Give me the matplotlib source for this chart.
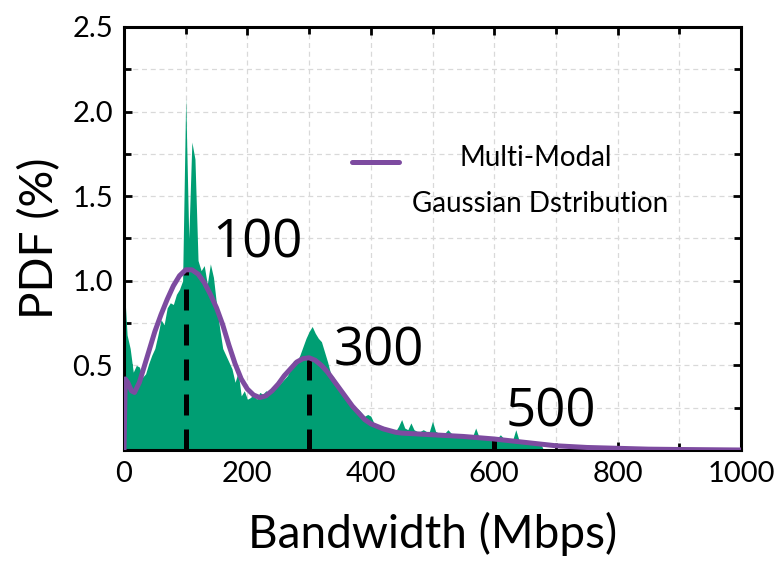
import matplotlib
matplotlib.use("Agg")
import matplotlib.pyplot as plt
from matplotlib.ticker import MultipleLocator
import numpy as np

plt.rcParams['font.family'] = ['Lato', 'DejaVu Sans']

# measured bandwidth histogram (PDF %), 5 Mbps bins
bw_x = list(range(0, 705, 5))
bw_pdf = [
    1.00, 0.68, 0.60, 0.46, 0.50, 0.49, 0.43, 0.45, 0.51, 0.56,   # 0-45
    0.60, 0.68, 0.77, 0.74, 0.84, 0.87, 0.86, 0.92, 0.95, 1.00,   # 50-95
    2.08, 1.25, 1.82, 1.72, 1.12, 1.06, 1.09, 0.98, 1.10, 1.02,   # 100-145
    0.86, 0.72, 0.60, 0.56, 0.52, 0.48, 0.40, 0.46, 0.32, 0.35,   # 150-195
    0.30, 0.31, 0.33, 0.30, 0.34, 0.33, 0.35, 0.34, 0.37, 0.36,   # 200-245
    0.38, 0.40, 0.42, 0.44, 0.48, 0.53, 0.52, 0.56, 0.61, 0.66,   # 250-295
    0.70, 0.73, 0.69, 0.66, 0.64, 0.58, 0.52, 0.45, 0.43, 0.40,   # 300-345
    0.37, 0.34, 0.31, 0.30, 0.27, 0.25, 0.24, 0.22, 0.20, 0.21,   # 350-395
    0.20, 0.16, 0.15, 0.14, 0.14, 0.13, 0.12, 0.12, 0.11, 0.14,   # 400-445
    0.18, 0.13, 0.12, 0.16, 0.12, 0.11, 0.11, 0.12, 0.11, 0.11,   # 450-495
    0.17, 0.11, 0.10, 0.10, 0.10, 0.12, 0.10, 0.09, 0.09, 0.09,   # 500-545
    0.09, 0.09, 0.08, 0.08, 0.13, 0.08, 0.08, 0.07, 0.07, 0.07,   # 550-595
    0.07, 0.07, 0.09, 0.07, 0.06, 0.06, 0.06, 0.12, 0.06, 0.05,   # 600-645
    0.05, 0.05, 0.05, 0.05, 0.05, 0.04, 0.00, 0.00, 0.00, 0.00,   # 650-695
    0.00,                                                         # 700
]

# fitted multi-modal gaussian curve
fit_x = [0, 2, 6, 12, 17, 25, 30, 40, 50, 60, 70, 80, 90, 100, 110, 120, 130,
         140, 150, 160, 170, 180, 190, 200, 210, 220, 230, 240, 250, 260, 270,
         280, 290, 300, 310, 320, 330, 340, 350, 360, 370, 380, 390, 400, 410,
         420, 430, 440, 450, 475, 500, 550, 600, 650, 700, 750, 800, 850, 900,
         1000]
fit_y = [0.00, 0.42, 0.40, 0.35, 0.34, 0.40, 0.46, 0.58, 0.70, 0.80, 0.89,
         0.97, 1.03, 1.065, 1.065, 1.04, 0.99, 0.92, 0.84, 0.74, 0.62, 0.51,
         0.42, 0.36, 0.325, 0.31, 0.32, 0.35, 0.39, 0.44, 0.48, 0.52, 0.54,
         0.545, 0.53, 0.50, 0.46, 0.41, 0.36, 0.31, 0.26, 0.22, 0.18, 0.155,
         0.14, 0.125, 0.115, 0.105, 0.10, 0.095, 0.09, 0.08, 0.065, 0.045,
         0.025, 0.015, 0.01, 0.005, 0.003, 0.0]

# modes marked with dashed lines
modes = [100, 300, 600]
mode_labels = ["100", "300", "500"]
label_pos = [(143, 1.14), (339, 0.50), (619, 0.136)]

green = "#009E73"
purple = "#7D4BA0"

fig = plt.figure(figsize=(7.79, 5.63), dpi=100)
ax = fig.add_axes([124 / 779, 113 / 563, 617 / 779, 423 / 563])

ax.fill_between(bw_x, bw_pdf, 0, color=green, linewidth=0, zorder=2)
ax.plot(fit_x, fit_y, color=purple, linewidth=3.6, zorder=4,
        solid_capstyle="round")

for m in modes:
    top = np.interp(m, fit_x, fit_y)
    ax.plot([m, m], [0, top], color="black", linewidth=3.6,
            dashes=(4.2, 2.8), zorder=3)

for txt, (tx, ty) in zip(mode_labels, label_pos):
    ax.text(tx, ty, txt, fontsize=38, family=['Open Sans', 'DejaVu Sans'],
            ha="left", va="baseline", zorder=5)

# legend drawn by hand (two lines, handle beside the first)
ax.plot([0.37, 0.445], [0.681, 0.681], transform=ax.transAxes, color=purple,
        linewidth=3.6, solid_capstyle="round", clip_on=False)
ax.text(0.667, 0.690, "Multi-Modal", transform=ax.transAxes, fontsize=20,
        ha="center", va="center")
ax.text(0.674, 0.582, "Gaussian Dstribution", transform=ax.transAxes,
        fontsize=20, ha="center", va="center")

ax.set_xlim(0, 1000)
ax.set_ylim(0, 2.5)
ax.xaxis.set_major_locator(MultipleLocator(200))
ax.xaxis.set_minor_locator(MultipleLocator(100))
ax.yaxis.set_minor_locator(MultipleLocator(0.25))
ax.set_yticks([0.5, 1.0, 1.5, 2.0, 2.5])
ax.set_yticklabels(["0.5", "1.0", "1.5", "2.0", "2.5"])

ax.grid(True, which="both", color="#d9d9d9", linestyle=(0, (4, 3)),
        linewidth=0.9, zorder=0)
ax.set_axisbelow(True)

ax.tick_params(which="both", direction="in", top=True, right=True,
               width=2, labelsize=21, colors="black")
ax.tick_params(which="major", length=6, pad=8)
ax.tick_params(which="minor", length=5)
for s in ax.spines.values():
    s.set_linewidth(2.2)

ax.set_xlabel("Bandwidth (Mbps)", fontsize=33, labelpad=18)
ax.set_ylabel("PDF (%)", fontsize=33, labelpad=8)

fig.savefig("out.png", dpi=100)
